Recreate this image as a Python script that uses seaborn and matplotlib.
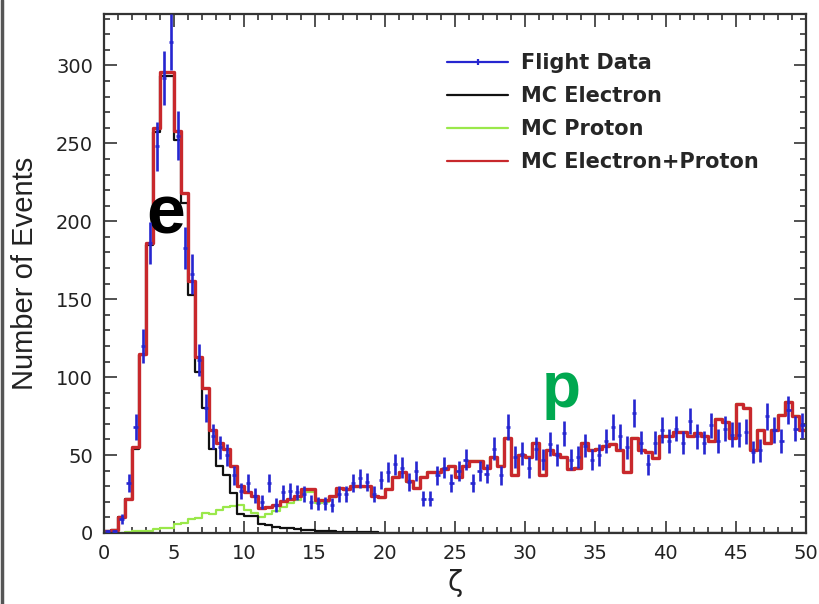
import numpy as np
import pandas as pd
import matplotlib
matplotlib.use("Agg")
import matplotlib.pyplot as plt
import seaborn as sns
from matplotlib.lines import Line2D
from matplotlib.ticker import MultipleLocator

# 100 bins of width 0.5 in zeta
bin_width = 0.5
zeta_range = (0, 50)
bin_centers = np.arange(0.25, 50, bin_width)

flight_data = [
    1, 1, 9, 32, 68, 120, 186, 248, 292, 315,
    255, 183, 166, 111, 80, 62, 55, 50, 37, 27,
    32, 24, 20, 32, 18, 26, 27, 26, 25, 20,
    19, 19, 18, 25, 25, 32, 35, 33, 25, 34,
    39, 44, 42, 33, 40, 22, 22, 37, 42, 32,
    40, 47, 32, 40, 38, 54, 37, 68, 49, 51,
    42, 54, 47, 57, 50, 64, 47, 49, 56, 47,
    50, 59, 68, 62, 55, 77, 58, 44, 58, 66,
    59, 67, 58, 72, 62, 58, 69, 59, 67, 63,
    63, 65, 52, 53, 75, 66, 59, 79, 67, 69,
]

mc_electron = [
    1, 2, 10, 21.5, 54, 114, 184.5, 257.5, 293, 293,
    252, 211.5, 153, 103.5, 80, 54, 43, 37, 25.5, 12,
    11, 11, 6, 5, 4, 3.5, 3, 2.5, 2, 2,
    1.5, 1.2, 1, 0.8, 0.7, 0.6, 0.5, 0.5, 0.4, 0.3,
    0.3, 0.2, 0.2, 0.2, 0.1, 0.1, 0, 0, 0, 0,
    0, 0, 0, 0, 0, 0, 0, 0, 0, 0,
    0, 0, 0, 0, 0, 0, 0, 0, 0, 0,
    0, 0, 0, 0, 0, 0, 0, 0, 0, 0,
    0, 0, 0, 0, 0, 0, 0, 0, 0, 0,
    0, 0, 0, 0, 0, 0, 0, 0, 0, 0,
]

mc_proton = [
    0, 0, 0, 0.5, 1, 1, 1.5, 2.5, 3, 3,
    6, 6.5, 9, 9.5, 13, 12, 15, 17, 17.5, 18,
    15, 13, 10, 12, 14, 17, 19, 21, 26, 26,
    19.5, 20, 23, 28, 27.5, 29.5, 29.5, 29.5, 23.5, 22.7,
    28, 36, 39, 33, 29, 36, 39, 39, 41, 43,
    36, 43, 46, 46, 42, 49, 43, 61, 37, 50,
    49, 58, 37, 53, 51, 49, 41, 42, 58, 53,
    54, 56, 57, 53, 39, 61, 53, 52, 48, 62,
    62, 65, 65, 62, 64, 62, 59, 73, 71, 61,
    83, 80, 53, 66, 58, 66, 76, 84, 75, 66,
]

x_ticks = [0, 5, 10, 15, 20, 25, 30, 35, 40, 45, 50]
y_ticks = [0, 50, 100, 150, 200, 250, 300]

legend_labels = ["Flight Data", "MC Electron", "MC Proton", "MC Electron+Proton"]

hist = pd.DataFrame({
    "zeta": bin_centers,
    "data": flight_data,
    "electron": mc_electron,
    "proton": mc_proton,
})
hist["total"] = hist["electron"] + hist["proton"]
hist["err"] = np.sqrt(np.maximum(hist["data"], 1))

sns.set_style("ticks")
plt.rcParams["font.family"] = ["DejaVu Sans"]

C_DATA = "#2626d0"
C_ELEC = "#111111"
C_PROT = "#9ae84a"
C_TOT = "#c8282c"

fig = plt.figure(figsize=(8.19, 6.04), dpi=100)
ax = fig.add_axes([104 / 819, 71 / 604, 702 / 819, 519 / 604])

step_kw = dict(x="zeta", binwidth=bin_width, binrange=zeta_range,
               element="step", fill=False, ax=ax)
sns.histplot(data=hist, weights="proton", color=C_PROT, linewidth=1.6, **step_kw)
sns.histplot(data=hist, weights="electron", color=C_ELEC, linewidth=1.6, **step_kw)
sns.histplot(data=hist, weights="total", color=C_TOT, linewidth=2.4, **step_kw)

ax.errorbar(hist["zeta"], hist["data"], yerr=hist["err"], xerr=0.15,
            fmt="none", ecolor=C_DATA, elinewidth=1.9, capsize=0, zorder=5)

ax.set_xlim(*zeta_range)
ax.set_ylim(0, 333)
ax.set_xticks(x_ticks)
ax.set_yticks(y_ticks)
ax.xaxis.set_minor_locator(MultipleLocator(1))
ax.yaxis.set_minor_locator(MultipleLocator(10))
ax.tick_params(which="both", direction="in", top=True, right=True,
               colors="#333333", labelcolor="#222222", labelsize=14, width=1.2)
ax.tick_params(which="major", length=9, pad=8)
ax.tick_params(which="minor", length=4.5)
for sp in ax.spines.values():
    sp.set_visible(True)
    sp.set_color("#333333")
    sp.set_linewidth(1.6)

ax.set_xlabel("ζ", fontsize=20, color="#222222", labelpad=4)
ax.set_ylabel("Number of Events", fontsize=21, color="#222222", labelpad=12,
              family=["Liberation Sans", "DejaVu Sans"])

ax.text(4.4, 204, "e", fontsize=50, fontweight="bold", color="black",
        ha="center", va="center", family=["Liberation Sans", "DejaVu Sans"])
ax.text(32.55, 92, "p", fontsize=46, fontweight="bold", color="#00a850",
        ha="center", va="center", family=["Liberation Sans", "DejaVu Sans"])

handles = [
    Line2D([], [], color=C_DATA, lw=1.6, marker="|", markersize=4, mew=1.6),
    Line2D([], [], color=C_ELEC, lw=1.6),
    Line2D([], [], color=C_PROT, lw=1.6),
    Line2D([], [], color=C_TOT, lw=1.6),
]
ax.legend(handles, legend_labels, loc="upper left",
          bbox_to_anchor=(0.4886, 0.925), frameon=False, borderpad=0,
          borderaxespad=0, handlelength=2.93, handletextpad=0.62,
          labelspacing=0.63, prop={"weight": "bold", "size": 15})

fig.add_artist(Line2D([0.002, 0.002], [0, 1], color="#555555", lw=2.5,
                      transform=fig.transFigure))

fig.savefig("out.png", dpi=100)
